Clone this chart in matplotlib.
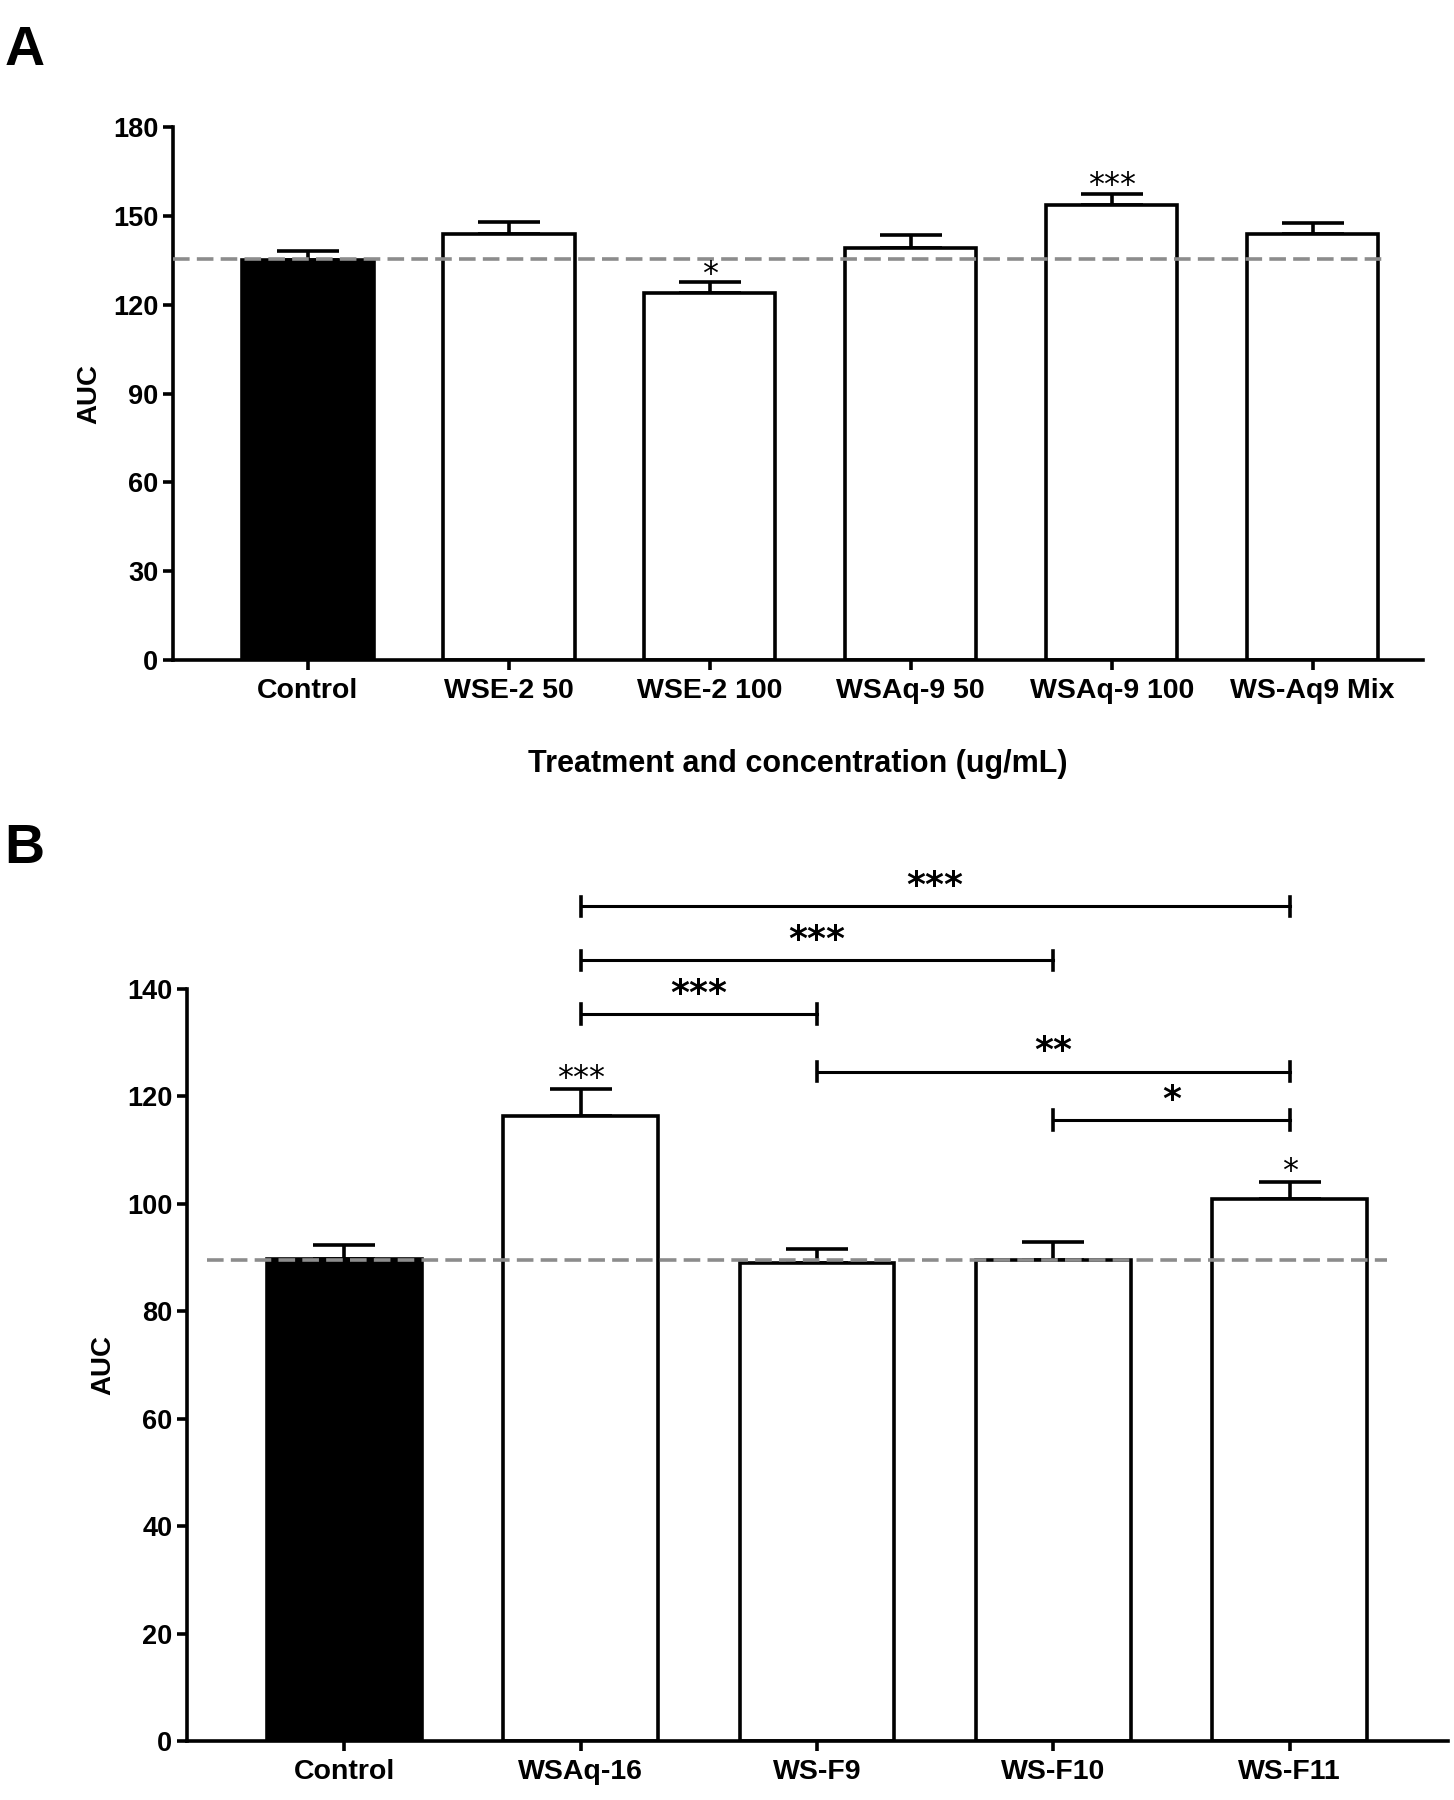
import numpy as np
import matplotlib.pyplot as plt

plt.rcParams['font.family'] = ['Liberation Sans', 'DejaVu Sans']
plt.rcParams['font.weight'] = 'bold'

# panel A
groups_a = ['Control', 'WSE-2 50', 'WSE-2 100', 'WSAq-9 50', 'WSAq-9 100', 'WS-Aq9 Mix']
auc_a = [135.0, 144.0, 123.8, 139.3, 153.6, 144.0]
err_a = [3.0, 3.8, 3.8, 4.2, 3.9, 3.5]
marks_a = ['', '', '*', '', '***', '']
ref_a = 135.4

# panel B
groups_b = ['Control', 'WSAq-16', 'WS-F9', 'WS-F10', 'WS-F11']
auc_b = [89.8, 116.3, 88.9, 89.5, 100.9]
err_b = [2.5, 5.1, 2.6, 3.3, 3.2]
marks_b = ['', '***', '', '', '*']
ref_b = 89.5
# comparisons: (from, to, height, label)
brackets_b = [(1, 4, 155.4, '***'), (1, 3, 145.3, '***'), (1, 2, 135.3, '***'),
              (2, 4, 124.6, '**'), (3, 4, 115.6, '*')]

LW = 2.6
STAR = ['DejaVu Sans']

fig = plt.figure(figsize=(14.54, 18), dpi=100)
axA = fig.add_axes([0.119, 0.6333, 0.8598, 0.2961])
axB = fig.add_axes([0.1286, 0.0328, 0.8673, 0.4178])


def draw_bars(ax, groups, vals, errs, marks, ref, xlim, ylim, yticks, ref_span, off):
    x = np.arange(len(groups))
    colors = ['black'] + ['white'] * (len(groups) - 1)
    ax.bar(x, vals, width=0.655, color=colors, edgecolor='black', linewidth=LW, zorder=2)
    ax.errorbar(x, vals, yerr=[np.zeros(len(x)), errs], fmt='none', ecolor='black',
                elinewidth=LW, capsize=22, capthick=LW, zorder=1)
    ax.plot(ref_span, [ref, ref], color='#8c8c8c', lw=2.6, dashes=(4.6, 2.0), zorder=3)
    for xi, v, e, m in zip(x, vals, errs, marks):
        if m:
            ax.text(xi, v + e + off, m, ha='center', va='bottom', fontsize=23,
                    fontweight='normal', family=STAR)
    ax.set_xlim(*xlim)
    ax.set_ylim(*ylim)
    ax.set_yticks(yticks)
    ax.set_xticks(x)
    ax.set_xticklabels(groups, fontsize=20.5, fontweight='bold')
    ax.tick_params(axis='y', labelsize=19.5, width=LW, length=7.5, pad=3)
    ax.tick_params(axis='x', width=LW, length=7, pad=6)
    for t in ax.get_yticklabels():
        t.set_fontweight('bold')
    for s in ['top', 'right']:
        ax.spines[s].set_visible(False)
    for s in ['left', 'bottom']:
        ax.spines[s].set_linewidth(LW)
    ax.set_ylabel('AUC', fontsize=20, fontweight='bold', labelpad=8)
    return x


draw_bars(axA, groups_a, auc_a, err_a, marks_a, ref_a, (-0.67, 5.55), (0, 180),
          np.arange(0, 181, 30), [-0.67, 5.37], -2.6)
axA.set_xlabel('Treatment and concentration (ug/mL)', fontsize=22, fontweight='bold',
               labelpad=32)

xb = draw_bars(axB, groups_b, auc_b, err_b, marks_b, ref_b, (-0.665, 4.67), (0, 140),
               np.arange(0, 141, 20), [-0.58, 4.41], -1.0)

for i, j, h, lab in brackets_b:
    axB.plot([xb[i], xb[j]], [h, h], color='black', lw=2.2, clip_on=False)
    for xe in (xb[i], xb[j]):
        axB.plot([xe, xe], [h - 1.8, h + 1.8], color='black', lw=2.6, clip_on=False)
    axB.text((xb[i] + xb[j]) / 2, h + 0.6, lab, ha='center', va='bottom', fontsize=26,
             fontweight='bold', family=STAR, clip_on=False)

fig.text(0.003, 0.986, 'A', fontsize=40, fontweight='bold', ha='left', va='top')
fig.text(0.003, 0.543, 'B', fontsize=40, fontweight='bold', ha='left', va='top')

fig.savefig('out.png', dpi=100)
